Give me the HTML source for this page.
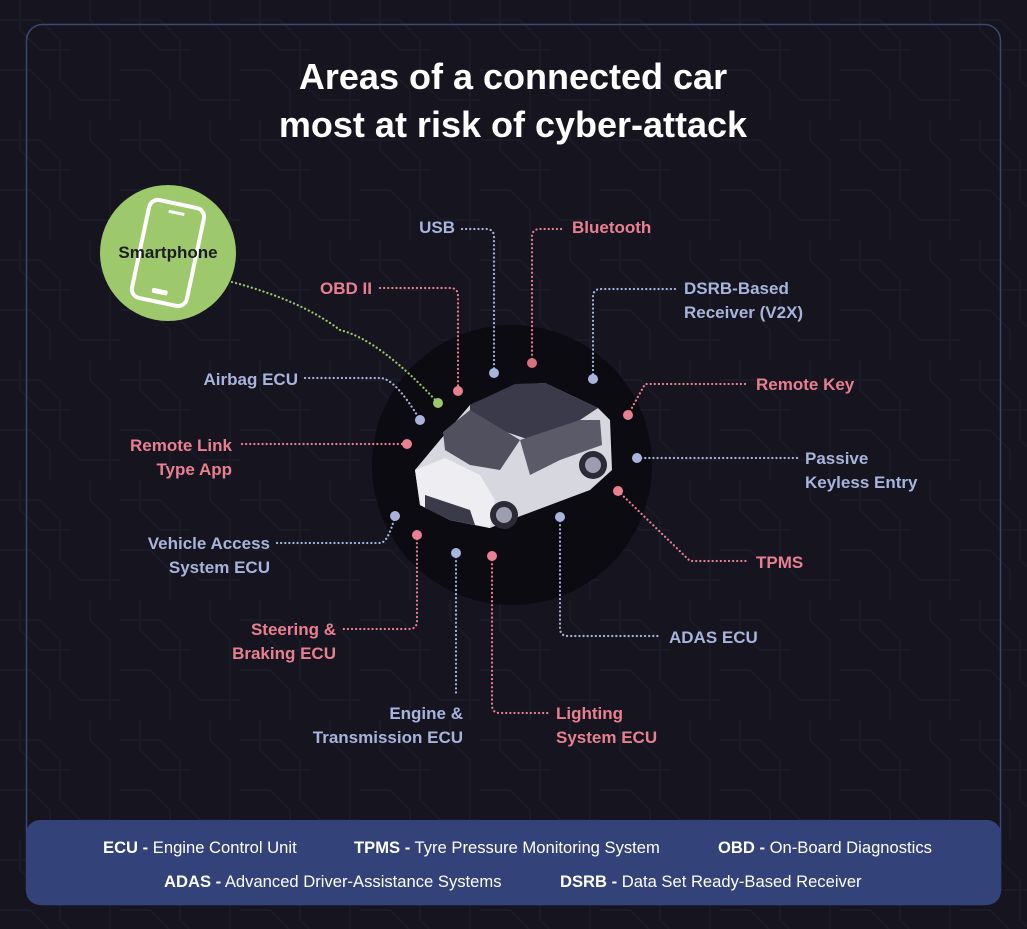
<!DOCTYPE html>
<html><head><meta charset="utf-8"><style>
html,body{margin:0;padding:0;background:#15141f;}
svg{display:block;font-family:"Liberation Sans",sans-serif;}
</style></head><body>
<svg width="1027" height="929" viewBox="0 0 1027 929" xmlns="http://www.w3.org/2000/svg">
<defs>
<pattern id="circ" width="120" height="120" patternUnits="userSpaceOnUse">
<path d="M0 20 H40 L60 40 V80 L80 100 H120 M20 0 V30 L40 50 H70 M90 0 V20 L110 40 V120 M0 70 H30 L50 90 V120" stroke="#1b1a27" stroke-width="2" fill="none"/>
</pattern>
</defs>
<rect width="1027" height="929" fill="#15141f"/>
<rect width="1027" height="929" fill="url(#circ)"/>
<rect x="26.5" y="24.5" width="974" height="880" rx="16" fill="none" stroke="#3a4777" stroke-width="1.5"/>
<text x="513" y="89" text-anchor="middle" fill="#fff" font-size="36" font-weight="bold">Areas of a connected car</text>
<text x="513" y="137" text-anchor="middle" fill="#fff" font-size="36" font-weight="bold">most at risk of cyber-attack</text>

<circle cx="512" cy="465" r="140" fill="#0c0b12"/>

<g fill="none" stroke-width="2.2" stroke-dasharray="0.1 4" stroke-linecap="round">
<path d="M462 229 H486 Q494 229 494 237 V373" stroke="#a9b4dc"/>
<path d="M532 363 V237 Q532 229 540 229 H565" stroke="#e8808f"/>
<path d="M380 288 H450 Q458 288 458 296 V391" stroke="#e8808f"/>
<path d="M675 289 H601 Q593 289 593 297 V379" stroke="#a9b4dc"/>
<path d="M232 282 Q300 300 340 330 Q380 340 438 403" stroke="#9bc96a"/>
<path d="M305 378 H380 Q395 378 420 420" stroke="#a9b4dc"/>
<path d="M242 444 H407" stroke="#e8808f"/>
<path d="M628 415 L645 384 H748" stroke="#e8808f"/>
<path d="M637 458 H797" stroke="#a9b4dc"/>
<path d="M618 491 L690 561 H748" stroke="#e8808f"/>
<path d="M277 543 H380 Q388 543 395 516" stroke="#a9b4dc"/>
<path d="M417 535 V621 Q417 629 409 629 H343" stroke="#e8808f"/>
<path d="M456 553 V695" stroke="#a9b4dc"/>
<path d="M492 556 V705 Q492 713 500 713 H548" stroke="#e8808f"/>
<path d="M560 517 V628 Q560 636 568 636 H660" stroke="#a9b4dc"/>
</g>
<g>
<circle cx="494" cy="373" r="5" fill="#a9b4dc"/>
<circle cx="532" cy="363" r="5" fill="#d9707f"/>
<circle cx="458" cy="391" r="5" fill="#e8808f"/>
<circle cx="593" cy="379" r="5" fill="#a9b4dc"/>
<circle cx="438" cy="403" r="5" fill="#9bc96a"/>
<circle cx="420" cy="420" r="5" fill="#a9b4dc"/>
<circle cx="407" cy="444" r="5" fill="#e8808f"/>
<circle cx="628" cy="415" r="5" fill="#e8808f"/>
<circle cx="637" cy="458" r="5" fill="#a9b4dc"/>
<circle cx="618" cy="491" r="5" fill="#e8808f"/>
<circle cx="395" cy="516" r="5" fill="#a9b4dc"/>
<circle cx="417" cy="535" r="5" fill="#e8808f"/>
<circle cx="456" cy="553" r="5" fill="#a9b4dc"/>
<circle cx="492" cy="556" r="5" fill="#e8808f"/>
<circle cx="560" cy="517" r="5" fill="#a9b4dc"/>
</g>

<!-- car -->
<g>
<path d="M415 470 L440 440 L470 405 L515 385 L545 383 L598 408 L610 420 L612 470 L590 490 L510 520 L490 528 L450 520 L420 505 Z" fill="#d6d7df"/>
<path d="M470 405 L515 384 L545 383 L598 408 L580 420 L530 440 L500 430 L470 415 Z" fill="#3b3a4a"/>
<path d="M443 432 L470 410 L520 440 L500 470 L470 465 L445 450 Z" fill="#50505f"/>
<path d="M520 440 L580 420 L600 420 L602 445 L560 460 L530 475 Z" fill="#5a5a68"/>
<path d="M415 470 L445 458 L480 475 L495 500 L490 528 L450 520 L420 505 Z" fill="#eeeef2"/>
<path d="M425 495 L470 510 L475 525 L450 520 L425 508 Z" fill="#3b3a48"/>
<circle cx="504" cy="515" r="14" fill="#2b2a36"/><circle cx="504" cy="515" r="8" fill="#9c9db0"/>
<circle cx="593" cy="465" r="14" fill="#2b2a36"/><circle cx="593" cy="465" r="8" fill="#9c9db0"/>
</g>

<!-- smartphone -->
<circle cx="168" cy="253" r="68" fill="#9dc86c"/>
<g transform="rotate(12 168 253)">
<rect x="140" y="203" width="56" height="100" rx="9" fill="none" stroke="#fff" stroke-width="4"/>
<line x1="160" y1="212" x2="176" y2="212" stroke="#fff" stroke-width="3"/>
<rect x="160" y="290" width="16" height="5" rx="2" fill="#fff"/>
</g>
<text x="168" y="258" text-anchor="middle" fill="#1c1c22" font-size="17" font-weight="bold">Smartphone</text>

<g font-size="17" font-weight="bold">
<text x="455" y="233" text-anchor="end" fill="#a9b4dc">USB</text>
<text x="572" y="233" fill="#e8808f">Bluetooth</text>
<text x="372" y="294" text-anchor="end" fill="#e8808f">OBD II</text>
<text x="684" y="294" fill="#a9b4dc">DSRB-Based</text>
<text x="684" y="318" fill="#a9b4dc">Receiver (V2X)</text>
<text x="298" y="385" text-anchor="end" fill="#a9b4dc">Airbag ECU</text>
<text x="232" y="451" text-anchor="end" fill="#e8808f">Remote Link</text>
<text x="232" y="475" text-anchor="end" fill="#e8808f">Type App</text>
<text x="756" y="390" fill="#e8808f">Remote Key</text>
<text x="805" y="464" fill="#a9b4dc">Passive</text>
<text x="805" y="488" fill="#a9b4dc">Keyless Entry</text>
<text x="756" y="568" fill="#e8808f">TPMS</text>
<text x="270" y="549" text-anchor="end" fill="#a9b4dc">Vehicle Access</text>
<text x="270" y="573" text-anchor="end" fill="#a9b4dc">System ECU</text>
<text x="336" y="635" text-anchor="end" fill="#e8808f">Steering &amp;</text>
<text x="336" y="659" text-anchor="end" fill="#e8808f">Braking ECU</text>
<text x="669" y="643" fill="#a9b4dc">ADAS ECU</text>
<text x="463" y="719" text-anchor="end" fill="#a9b4dc">Engine &amp;</text>
<text x="463" y="743" text-anchor="end" fill="#a9b4dc">Transmission ECU</text>
<text x="556" y="719" fill="#e8808f">Lighting</text>
<text x="556" y="743" fill="#e8808f">System ECU</text>
</g>

<rect x="26" y="820" width="975" height="85" rx="14" fill="#34427a"/>
<g font-size="16.6" fill="#fff">
<text x="103" y="853"><tspan font-weight="bold">ECU -</tspan> Engine Control Unit</text>
<text x="354" y="853"><tspan font-weight="bold">TPMS -</tspan> Tyre Pressure Monitoring System</text>
<text x="718" y="853"><tspan font-weight="bold">OBD -</tspan> On-Board Diagnostics</text>
<text x="164" y="887"><tspan font-weight="bold">ADAS -</tspan> Advanced Driver-Assistance Systems</text>
<text x="560" y="887"><tspan font-weight="bold">DSRB -</tspan> Data Set Ready-Based Receiver</text>
</g>
</svg>
</body></html>
